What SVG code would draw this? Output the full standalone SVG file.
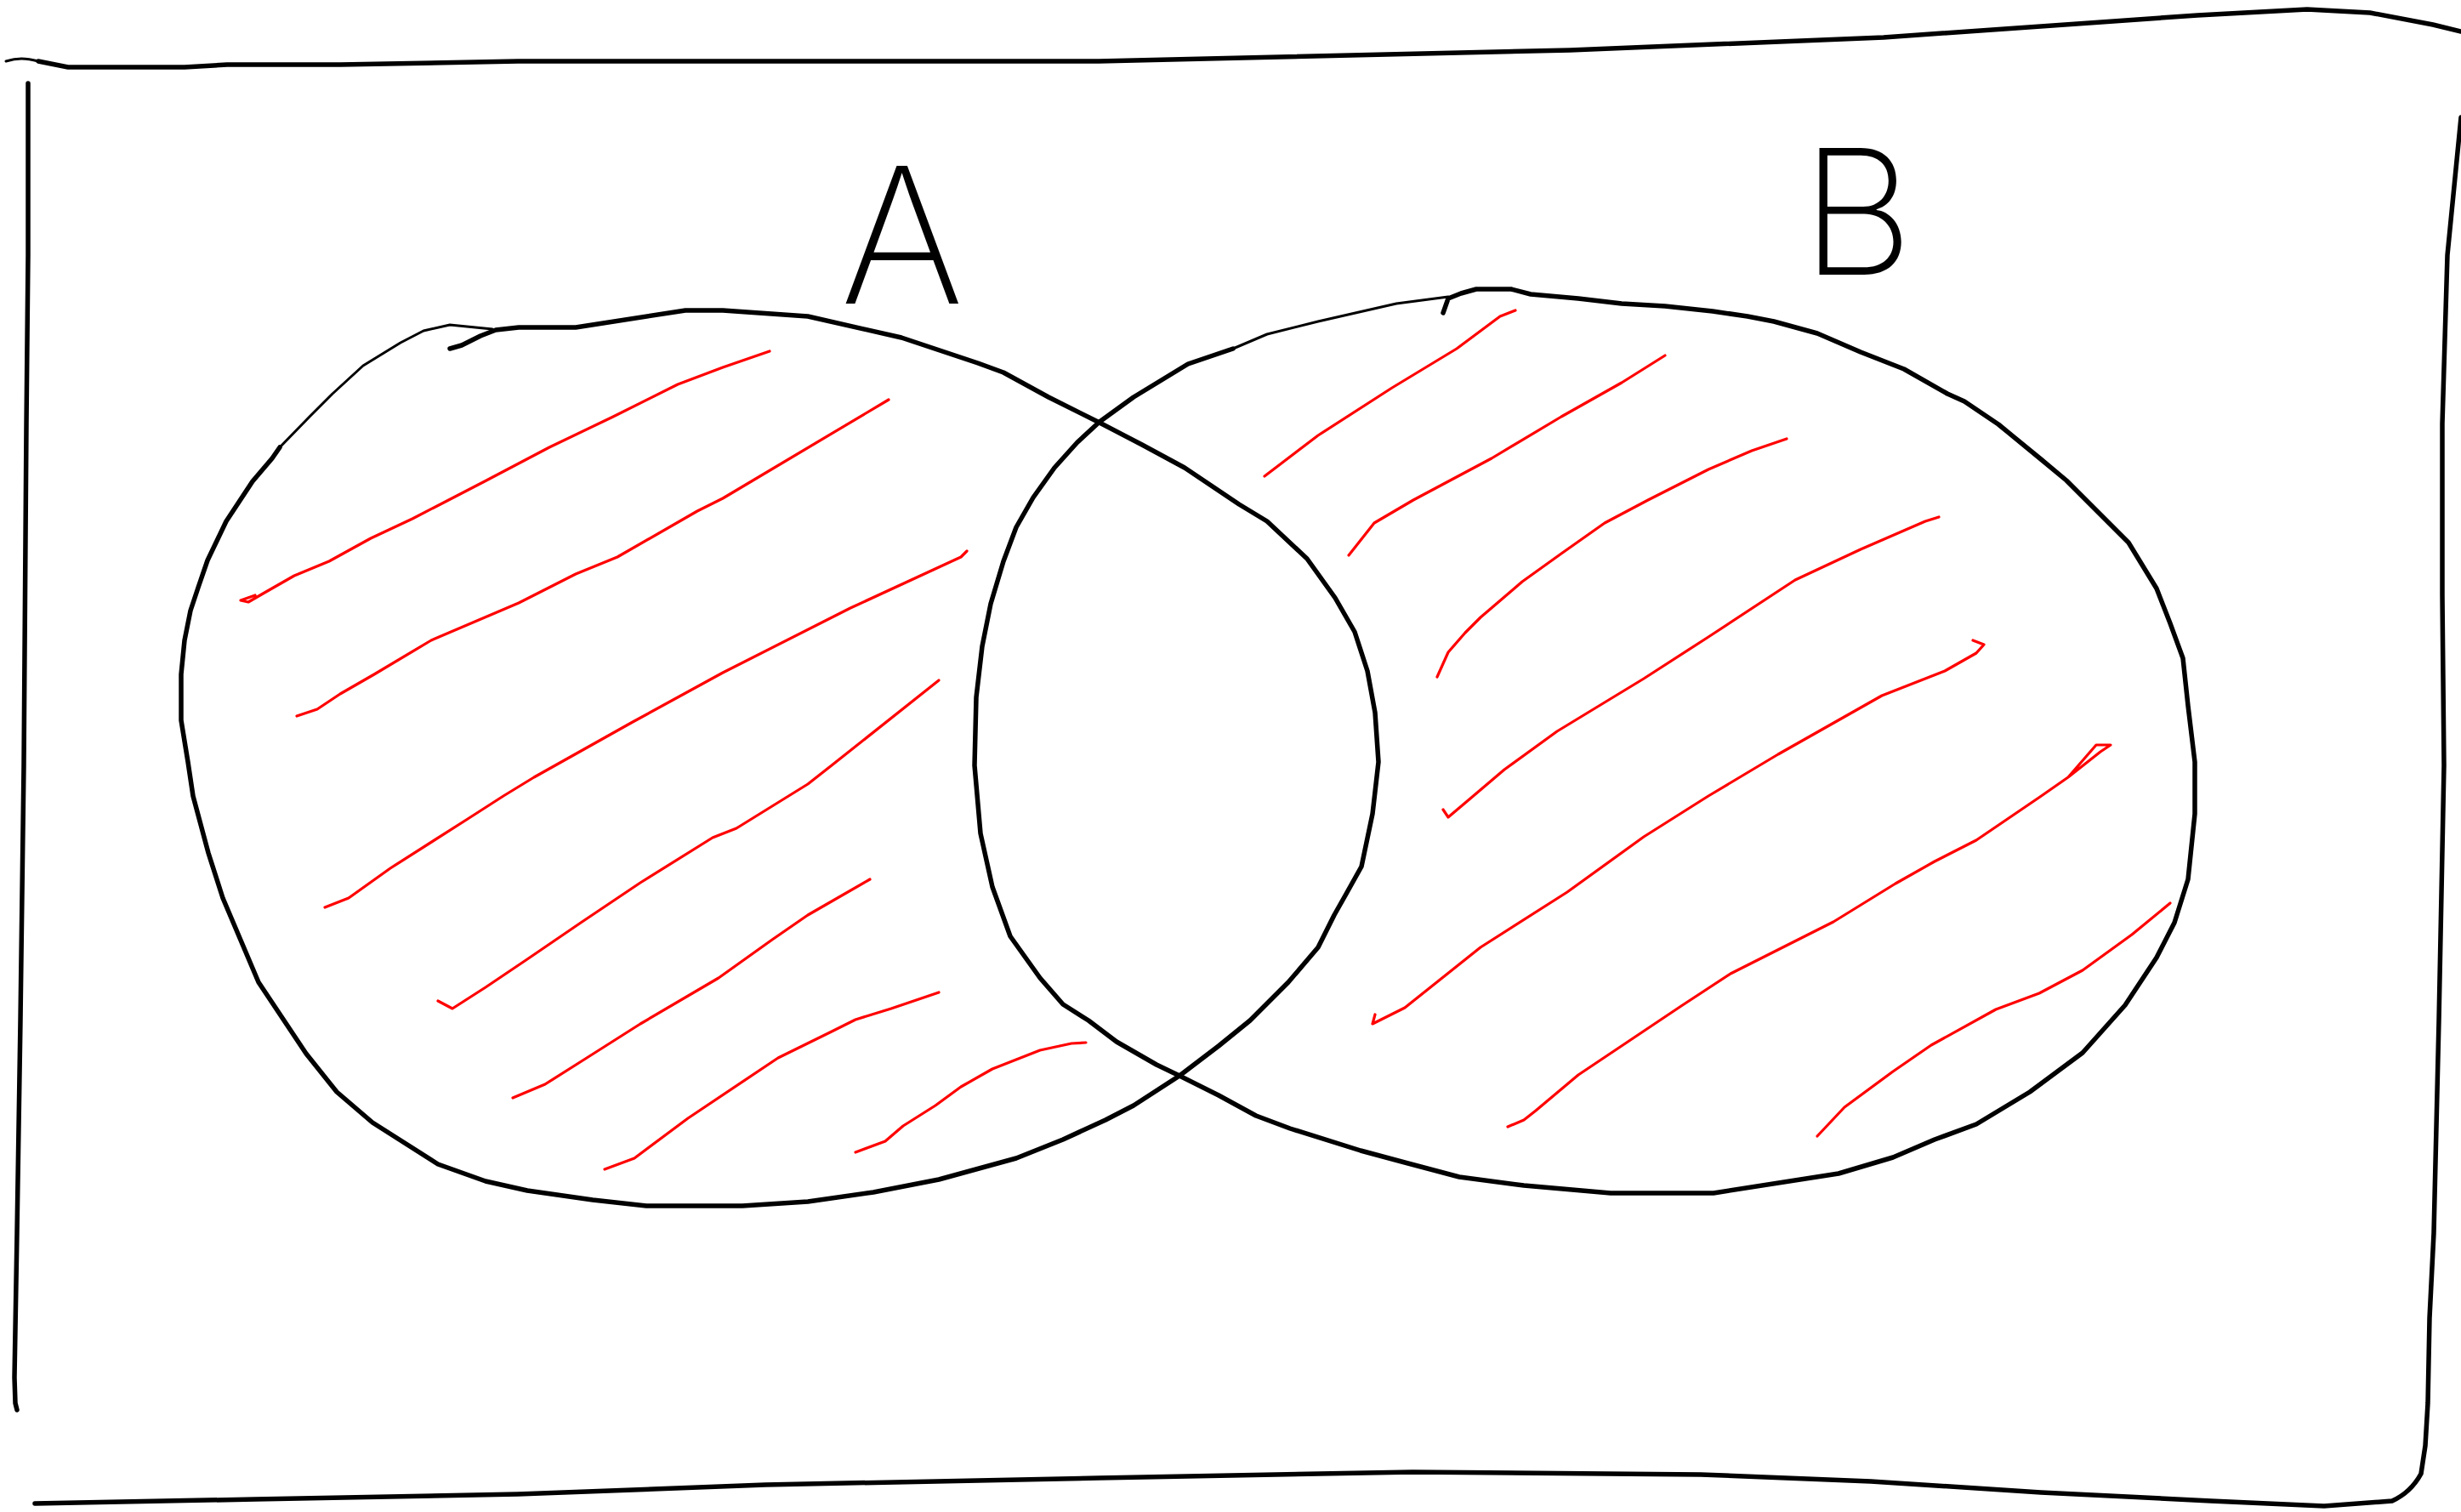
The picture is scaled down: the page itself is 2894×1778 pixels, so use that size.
<svg xmlns="http://www.w3.org/2000/svg" width="2894" height="1778" viewBox="0 0 2894 1778">
<style>
.k{fill:none;stroke:#000;stroke-width:5.5;stroke-linecap:round;stroke-linejoin:round}
.kt{fill:none;stroke:#000;stroke-width:3;stroke-linecap:round;stroke-linejoin:round}
.r{fill:none;stroke:#ff0000;stroke-width:3.2;stroke-linecap:round;stroke-linejoin:round}
.lbl{font-family:Inter,"Liberation Sans",sans-serif;font-weight:200;fill:#000}
</style>
<rect width="2894" height="1778" fill="#fff"/>
<g id="frame">
<path class="kt" d="M7,72 C20,68 30,68 45,72"/>
<path class="k" d="M45,72 L80,79 L217,79 L267,76 L400,76 L609,72 L1292,72 L1846,59 L2215,44 L2584,18 L2713,11 L2787,15 L2861,29 L2894,37"/>
<path class="k" d="M33,98 L33,300 L31,500 L28,900 L24,1200 L20,1450 L17,1620 L18,1650 L20,1658"/>
<path class="k" d="M2894,138 L2878,300 L2872,498 L2872,700 L2874,900 L2868,1200 L2862,1450 L2857,1550 L2855,1650 L2852,1700 L2847,1733 Q2835,1755 2813,1765 L2733,1771 L2600,1765 L2400,1755 L2200,1742 L2000,1734 L1661,1731 L1292,1738 L900,1746 L609,1757 L300,1763 L41,1768"/>
</g>
<g id="set-a">
<path class="k" d="M529,410 L543,406 L565,395 L583,388 L610,385 L677,385 L806,365 L850,365 L950,372 L1060,397 L1150,427 L1180,438 L1233,467 L1293,497 L1343,523 L1393,550 L1457,593 L1490,613 L1537,657 L1570,703 L1593,743 L1608,789 L1617,838 L1621,896 L1617,931 L1614,957 L1601,1019 L1582,1053 L1569,1076 L1550,1114 L1515,1155 L1470,1200 L1433,1230 L1387,1265 L1333,1300 L1300,1317 L1250,1340 L1195,1362 L1104,1387 L1027,1402 L950,1413 L873,1418 L760,1418 L697,1411 L620,1400 L571,1389 L515,1369 L438,1320 L396,1284 L360,1239 L304,1155 L262,1056 L245,1003 L227,936 L221,896 L213,847 L213,793 L217,753 L224,718 L233,691 L244,659 L266,613 L297,566 L320,539 L329,526"/>
<path class="kt" d="M329,526 L364,490 L391,463 L427,430 L471,403 L498,389 L529,382 L579,387"/>
</g>
<g id="set-b">
<path class="k" d="M1697,368 L1703,351 L1718,345 L1736,340 L1777,340 L1800,346 L1856,351 L1907,357 L1958,360 L2014,366 L2055,372 L2086,378 L2137,392 L2188,414 L2239,434 L2290,463 L2310,472 L2350,499 L2400,540 L2430,565 L2465,600 L2503,638 L2536,692 L2552,733 L2567,774 L2573,830 L2581,896 L2581,957 L2573,1034 L2557,1085 L2536,1126 L2499,1182 L2449,1238 L2387,1284 L2324,1322 L2275,1340 L2226,1361 L2162,1380 L2015,1403 L1894,1403 L1792,1394 L1716,1384 L1652,1367 L1600,1353 L1517,1327 L1477,1312 L1433,1288 L1387,1265 L1360,1252 L1313,1225 L1280,1200 L1250,1181 L1223,1150 L1188,1101 L1167,1043 L1153,980 L1146,900 L1148,820 L1155,760 L1165,710 L1180,660 L1195,620 L1215,585 L1240,550 L1267,520 L1293,496 L1333,467 L1397,428 L1450,410"/>
<path class="kt" d="M1450,410 L1490,393 L1550,378 L1642,357 L1703,349"/>
</g>
<g id="hatching-a">
<path class="r" d="M300,700 L283,706 L292,708 L311,697 L346,677 L387,660 L436,633 L485,610 L570,566 L646,526 L721,490 L797,452 L850,432 L905,413"/>
<path class="r" d="M349,842 L373,834 L400,816 L440,793 L507,753 L610,709 L677,675 L726,655 L820,601 L850,586 L1045,470"/>
<path class="r" d="M382,1067 L410,1056 L459,1021 L550,963 L592,936 L628,914 L744,849 L850,791 L1000,715 L1130,655 L1137,648"/>
<path class="r" d="M515,1177 L532,1186 L571,1161 L620,1128 L683,1085 L753,1038 L838,985 L866,974 L950,922 L978,900 L1104,800"/>
<path class="r" d="M603,1291 L641,1275 L690,1244 L753,1204 L845,1150 L908,1105 L950,1076 L1023,1034"/>
<path class="r" d="M711,1375 L746,1362 L809,1315 L915,1244 L978,1213 L1006,1199 L1048,1186 L1104,1167"/>
<path class="r" d="M1006,1355 L1041,1342 L1062,1324 L1100,1300 L1130,1278 L1167,1257 L1223,1235 L1260,1227 L1277,1226"/>
</g>
<g id="hatching-b">
<path class="r" d="M1487,560 L1550,512 L1637,456 L1713,410 L1764,372 L1782,365"/>
<path class="r" d="M1586,653 L1616,615 L1662,588 L1754,539 L1836,490 L1907,450 L1958,418"/>
<path class="r" d="M1690,796 L1703,767 L1723,744 L1741,726 L1790,684 L1836,651 L1887,615 L1938,588 L2009,552 L2060,530 L2101,516"/>
<path class="r" d="M1697,952 L1703,961 L1729,939 L1769,905 L1831,860 L1933,798 L2009,749 L2111,682 L2188,646 L2264,613 L2280,608"/>
<path class="r" d="M1617,1193 L1614,1204 L1652,1185 L1741,1114 L1843,1049 L1933,984 L2009,936 L2091,887 L2213,818 L2287,789 L2324,768 L2333,758 L2320,753"/>
<path class="r" d="M1773,1325 L1792,1317 L1806,1306 L1856,1264 L1977,1183 L2035,1145 L2156,1084 L2229,1039 L2275,1013 L2324,988 L2399,937 L2432,914 L2465,876 L2482,876 L2470,884 L2432,914"/>
<path class="r" d="M2137,1336 L2169,1302 L2226,1260 L2271,1229 L2347,1187 L2398,1168 L2449,1141 L2507,1099 L2552,1062"/>
</g>
<g id="labels">
<text id="label-a" class="lbl" x="988" y="357" font-size="222">A</text>
<text id="label-b" class="lbl" x="2118" y="323" font-size="205">B</text>
</g>
</svg>
